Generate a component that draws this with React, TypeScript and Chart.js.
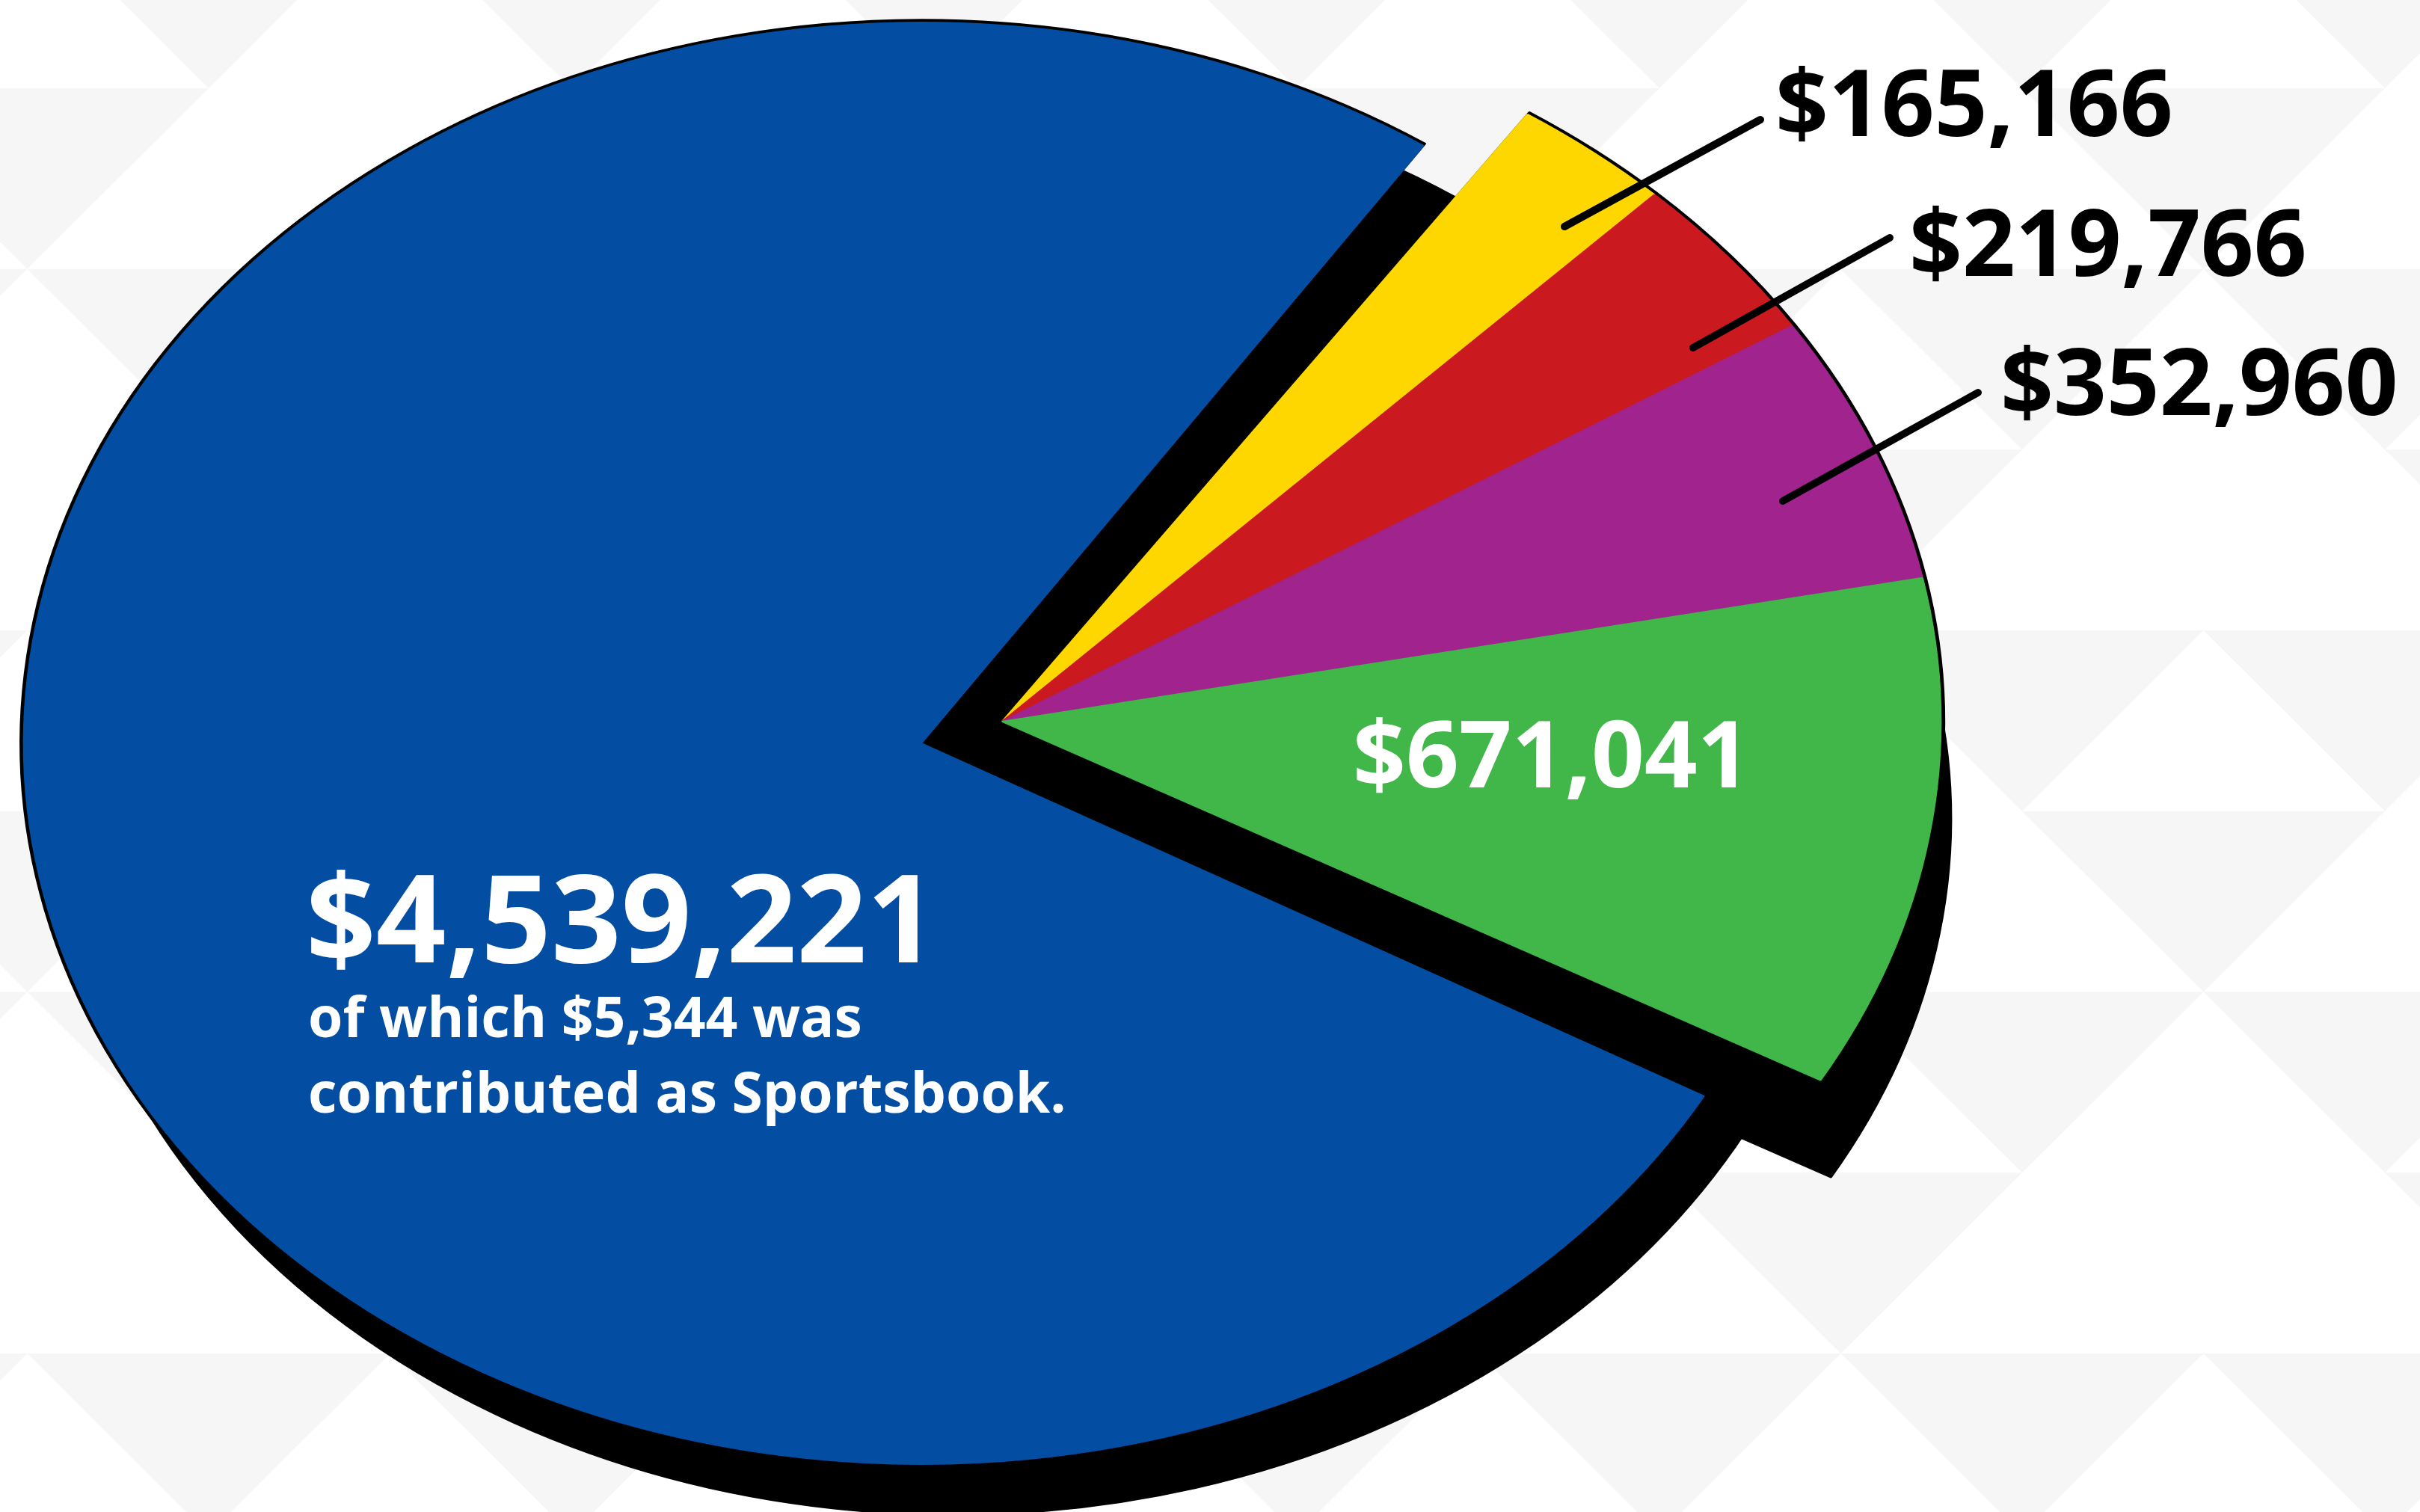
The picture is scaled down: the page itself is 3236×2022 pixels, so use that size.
import React, { useEffect, useRef } from 'react';
import { Chart, PieController, ArcElement } from 'chart.js';

Chart.register(PieController, ArcElement);

// ---- data ----
const categories = ['Total contributions', 'Share E', 'Share D', 'Share C', 'Share B'];
const values = [4539221, 165166, 219766, 352960, 671041];
const sliceColors = ['#034EA2', '#FED700', '#CB1A1F', '#A0238E', '#41B649'];
const noteLines = ['of which $5,344 was', 'contributed as Sportsbook.'];

// ---- layout / style ----
const W = 3236;
const H = 2022;
const FONT = '"Open Sans", "Noto Sans", sans-serif';
const fmt = (v: number) => '$' + v.toLocaleString('en-US');

type Group = { dx: number; dy: number; rx: number; ry: number; shadow: [number, number] };
const MAIN: Group = { dx: -108, dy: 29, rx: 1200, ry: 964, shadow: [42, 68] };
const REST: Group = { dx: 0, dy: 0, rx: 1255, ry: 980, shadow: [14, 130] };
const OUTLINE = 1.0038;

type Lbl = { x: number; y: number; color: string; line?: [number, number, number, number] };
const LABELS: Lbl[] = [
  { x: 409, y: 1287, color: '#ffffff' },
  { x: 2374, y: 182, color: '#000000', line: [2092, 303, 2354, 160] },
  { x: 2553, y: 369, color: '#000000', line: [2264, 465, 2527, 318] },
  { x: 2675, y: 555, color: '#000000', line: [2384, 670, 2645, 525] },
  { x: 1809, y: 1053, color: '#ffffff' },
];

function drawBackground(ctx: CanvasRenderingContext2D) {
  ctx.save();
  ctx.fillStyle = '#ffffff';
  ctx.fillRect(0, 0, W, H);
  ctx.fillStyle = '#f6f6f6';
  const rowH = 241.7;
  const step = 485;
  const half = 242.5;
  for (let r = 0; r <= 8; r++) {
    const top = -123.7 + r * rowH;
    for (let k = -2; k <= 8; k++) {
      let c: number;
      if (r % 2 === 0) {
        c = 279 + step * k;
      } else {
        const wantOdd = ((r - 1) / 2) % 2 === 0;
        if ((Math.abs(k) % 2 === 1) !== wantOdd) continue;
        c = 521.5 + step * k;
      }
      ctx.beginPath();
      ctx.moveTo(c - half, top);
      ctx.lineTo(c + half, top);
      ctx.lineTo(c, top + rowH);
      ctx.closePath();
      ctx.fill();
    }
  }
  ctx.restore();
}

function paint(
  ctx: CanvasRenderingContext2D,
  arc: any,
  g: Group,
  k: number,
  shift: [number, number],
  color: string
) {
  const R = arc.outerRadius;
  ctx.save();
  ctx.translate(arc.x + g.dx + shift[0], arc.y + g.dy + shift[1]);
  ctx.scale((g.rx * k) / R, (g.ry * k) / R);
  ctx.translate(-arc.x, -arc.y);
  const ghost = Object.create(arc);
  ghost.options = {
    ...arc.options,
    backgroundColor: color,
    borderColor: color,
    borderWidth: 2,
    borderAlign: 'center',
  };
  arc.draw.call(ghost, ctx);
  ctx.restore();
}

const tiltedPie = {
  id: 'tiltedPie',
  beforeDraw(chart: any) {
    drawBackground(chart.ctx);
  },
  beforeDatasetsDraw(chart: any) {
    const ctx = chart.ctx as CanvasRenderingContext2D;
    const arcs = chart.getDatasetMeta(0).data as any[];
    const grp = (i: number) => (i === 0 ? MAIN : REST);
    // depth / shadow
    arcs.forEach((a) => paint(ctx, a, MAIN, 1, MAIN.shadow, '#000000'));
    arcs.forEach((a, i) => {
      if (i > 0) paint(ctx, a, REST, 1, REST.shadow, '#000000');
    });
    // outer outline
    arcs.forEach((a, i) => paint(ctx, a, grp(i), OUTLINE, [0, 0], '#000000'));
    // slices
    arcs.forEach((a, i) => paint(ctx, a, grp(i), 1, [0, 0], a.options.backgroundColor));
    return false;
  },
  afterDraw(chart: any) {
    const ctx = chart.ctx as CanvasRenderingContext2D;
    ctx.save();
    ctx.textAlign = 'left';
    ctx.textBaseline = 'alphabetic';
    LABELS.forEach((l, i) => {
      if (l.line) {
        ctx.strokeStyle = '#000000';
        ctx.lineWidth = 10;
        ctx.lineCap = 'round';
        ctx.beginPath();
        ctx.moveTo(l.line[0], l.line[1]);
        ctx.lineTo(l.line[2], l.line[3]);
        ctx.stroke();
      }
      ctx.fillStyle = l.color;
      ctx.font = i === 0 ? `bold 164px ${FONT}` : `bold 124px ${FONT}`;
      ctx.fillText(fmt(values[i]), l.x, l.y);
      if (i === 0) {
        ctx.font = `bold 75px ${FONT}`;
        noteLines.forEach((t, j) => ctx.fillText(t, l.x + 3, l.y + 100 + j * 101));
      }
    });
    ctx.restore();
  },
};

export default function App() {
  const ref = useRef<HTMLCanvasElement>(null);
  useEffect(() => {
    document.body.style.margin = '0';
    document.body.style.overflow = 'hidden';
    const chart = new Chart(ref.current as HTMLCanvasElement, {
      type: 'pie',
      data: {
        labels: categories,
        datasets: [
          {
            data: values,
            backgroundColor: sliceColors,
            borderWidth: 0,
            radius: 1000,
          } as any,
        ],
      },
      options: {
        responsive: false,
        animation: false,
        events: [],
        rotation: 119.3,
        layout: { padding: { left: 0, right: 556, top: 0, bottom: 92 } },
      } as any,
      plugins: [tiltedPie as any],
    });
    return () => chart.destroy();
  }, []);
  return (
    <div style={{ width: W, height: H, position: 'relative', overflow: 'hidden', background: '#fff' }}>
      <canvas ref={ref} width={W} height={H} style={{ display: 'block', width: W, height: H }} />
    </div>
  );
}
